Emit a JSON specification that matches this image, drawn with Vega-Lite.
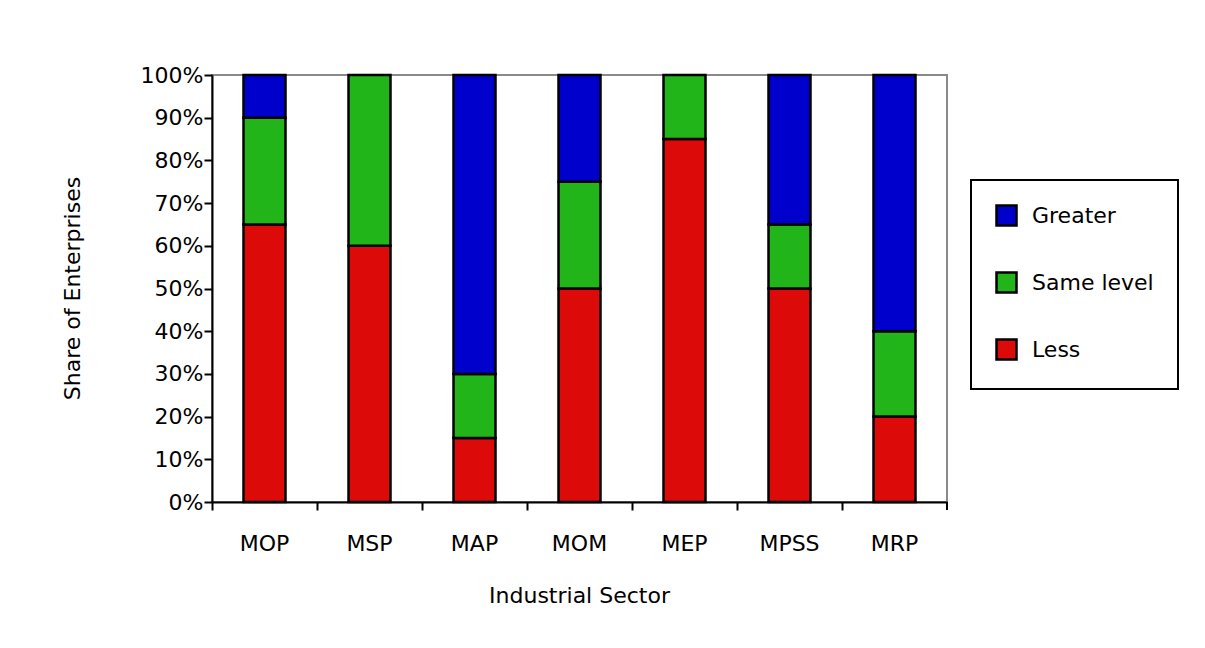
{
  "$schema": "https://vega.github.io/schema/vega-lite/v6.json",
  "width": 735,
  "height": 427,
  "autosize": {"type": "none"},
  "padding": {"left": 212, "top": 75, "right": 258, "bottom": 146},
  "background": "white",
  "config": {
    "font": "DejaVu Sans",
    "view": {"stroke": "#8a8a8a", "strokeWidth": 2}
  },
  "data": {
    "values": [
      {"sector": "MOP", "level": "Less", "rank": 1, "share": 65},
      {"sector": "MOP", "level": "Same level", "rank": 2, "share": 25},
      {"sector": "MOP", "level": "Greater", "rank": 3, "share": 10},
      {"sector": "MSP", "level": "Less", "rank": 1, "share": 60},
      {"sector": "MSP", "level": "Same level", "rank": 2, "share": 40},
      {"sector": "MSP", "level": "Greater", "rank": 3, "share": 0},
      {"sector": "MAP", "level": "Less", "rank": 1, "share": 15},
      {"sector": "MAP", "level": "Same level", "rank": 2, "share": 15},
      {"sector": "MAP", "level": "Greater", "rank": 3, "share": 70},
      {"sector": "MOM", "level": "Less", "rank": 1, "share": 50},
      {"sector": "MOM", "level": "Same level", "rank": 2, "share": 25},
      {"sector": "MOM", "level": "Greater", "rank": 3, "share": 25},
      {"sector": "MEP", "level": "Less", "rank": 1, "share": 85},
      {"sector": "MEP", "level": "Same level", "rank": 2, "share": 15},
      {"sector": "MEP", "level": "Greater", "rank": 3, "share": 0},
      {"sector": "MPSS", "level": "Less", "rank": 1, "share": 50},
      {"sector": "MPSS", "level": "Same level", "rank": 2, "share": 15},
      {"sector": "MPSS", "level": "Greater", "rank": 3, "share": 35},
      {"sector": "MRP", "level": "Less", "rank": 1, "share": 20},
      {"sector": "MRP", "level": "Same level", "rank": 2, "share": 20},
      {"sector": "MRP", "level": "Greater", "rank": 3, "share": 60}
    ]
  },
  "layer": [
    {
      "transform": [{"filter": "datum.share > 0"}],
      "mark": {"type": "bar", "width": {"band": 0.4}, "stroke": "black", "strokeWidth": 2.5},
      "encoding": {
        "x": {
          "field": "sector",
          "type": "nominal",
          "sort": ["MOP", "MSP", "MAP", "MOM", "MEP", "MPSS", "MRP"],
          "scale": {"paddingInner": 0, "paddingOuter": 0},
          "axis": {
            "title": "Industrial Sector",
            "bandPosition": 0,
            "labelAngle": 0,
            "labelFontSize": 22,
            "labelColor": "black",
            "labelPadding": 23,
            "domainColor": "black",
            "domainWidth": 2,
            "tickColor": "black",
            "tickWidth": 2,
            "tickSize": 8,
            "titleFontSize": 22,
            "titleFontWeight": "normal",
            "titleColor": "black",
            "titleX": 367,
            "titleY": 93,
            "titleBaseline": "middle",
            "titleAlign": "center"
          }
        },
        "y": {
          "field": "share",
          "type": "quantitative",
          "stack": "zero",
          "scale": {"domain": [0, 100]},
          "axis": {
            "title": "Share of Enterprises",
            "values": [0, 10, 20, 30, 40, 50, 60, 70, 80, 90, 100],
            "labelExpr": "datum.value + '%'",
            "grid": false,
            "labelFontSize": 22,
            "labelColor": "black",
            "labelPadding": 1,
            "domainColor": "black",
            "domainWidth": 2,
            "tickColor": "black",
            "tickWidth": 2,
            "tickSize": 8,
            "titleFontSize": 22,
            "titleFontWeight": "normal",
            "titleColor": "black",
            "titleAngle": -90,
            "titleX": -140,
            "titleY": 213,
            "titleBaseline": "middle",
            "titleAlign": "center"
          }
        },
        "color": {
          "field": "level",
          "type": "nominal",
          "scale": {
            "domain": ["Greater", "Same level", "Less"],
            "range": ["#0000cd", "#21b519", "#dc0b09"]
          },
          "legend": {
            "title": null,
            "orient": "none",
            "legendX": 759,
            "legendY": 105,
            "strokeColor": "black",
            "padding": 24,
            "symbolType": "square",
            "symbolSize": 400,
            "symbolStrokeColor": "black",
            "symbolStrokeWidth": 2.5,
            "symbolOpacity": 1,
            "labelFontSize": 22,
            "labelColor": "black",
            "labelOffset": 14,
            "rowPadding": 36,
            "encode": {
              "legend": {"update": {"strokeWidth": {"value": 2}}}
            }
          }
        },
        "order": {"field": "rank", "type": "quantitative"}
      }
    },
    {
      "data": {"values": [{}]},
      "mark": {"type": "rule", "stroke": "black", "strokeWidth": 2, "clip": false},
      "encoding": {
        "x": {"datum": "MRP", "bandPosition": 1},
        "y": {"datum": 0},
        "y2": {"datum": -1.9}
      }
    }
  ]
}
